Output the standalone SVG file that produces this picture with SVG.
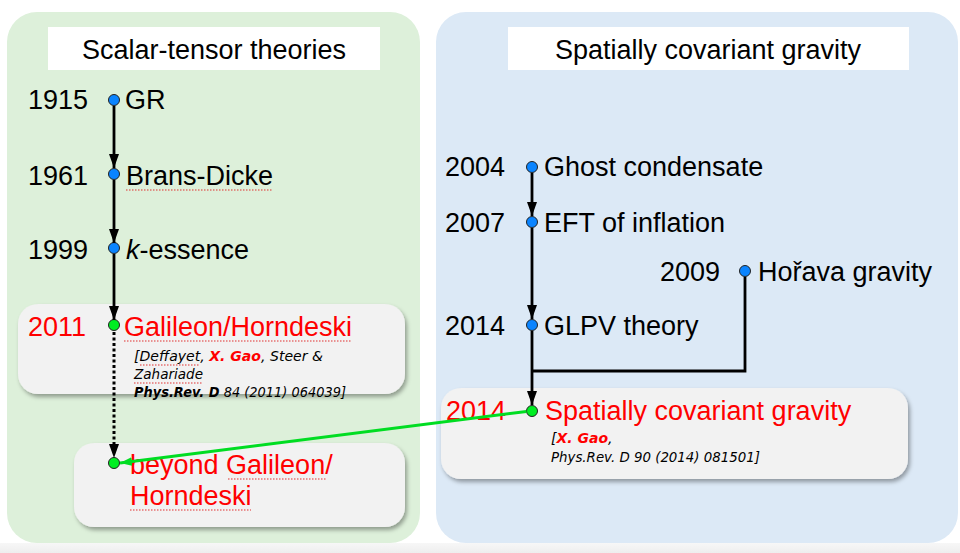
<svg xmlns="http://www.w3.org/2000/svg" width="960" height="553" viewBox="0 0 960 553">
<defs>
<style>
.t{font-family:"Liberation Sans",Arial,sans-serif;font-size:27px;fill:#000}
.red{fill:#ff0000}
.ref{font-family:"DejaVu Sans","Noto Sans",sans-serif;font-size:14px;font-style:italic;fill:#000}
.b{font-weight:bold}
.dot{fill:#0a84ff;stroke:#222;stroke-width:1}
.gdot{fill:#00ee22;stroke:#222;stroke-width:1}
.ln{stroke:#000;stroke-width:2.8;fill:none}
.box{fill:#f2f2f2;filter:url(#sh)}
.sp{stroke:#e03030;stroke-width:1.2;stroke-dasharray:1.5 1.5;fill:none}
</style>
<filter id="sh" x="-10%" y="-10%" width="130%" height="140%">
<feDropShadow dx="2" dy="3" stdDeviation="2.2" flood-color="#000" flood-opacity="0.35"/>
</filter>
<marker id="ah" viewBox="0 0 14 10" refX="14" refY="5" markerWidth="14" markerHeight="10" markerUnits="userSpaceOnUse" orient="auto">
<path d="M0,0 L14,5 L0,10 Z" fill="#000"/>
</marker>
<marker id="ahg" viewBox="0 0 14 10" refX="14" refY="5" markerWidth="12" markerHeight="10" markerUnits="userSpaceOnUse" orient="auto">
<path d="M0,0 L14,5 L0,10 Z" fill="#00dd22"/>
</marker>
<linearGradient id="bot" x1="0" y1="0" x2="0" y2="1">
<stop offset="0" stop-color="#f7f7f7"/>
<stop offset="1" stop-color="#eeeeee"/>
</linearGradient>
</defs>
<rect x="0" y="0" width="960" height="553" fill="#ffffff"/>
<rect x="0" y="543" width="960" height="10" fill="url(#bot)"/>

<g id="panel-left">
<rect x="7" y="12" width="413" height="531" rx="30" fill="#ddf0da"/>
<rect x="48" y="27" width="332" height="43" fill="#fff"/>
<text class="t" x="214" y="59" text-anchor="middle">Scalar-tensor theories</text>
</g>
<g id="panel-right">
<rect x="436" y="12" width="522" height="531" rx="30" fill="#dce9f6"/>
<rect x="508" y="27" width="401" height="43" fill="#fff"/>
<text class="t" x="708" y="59" text-anchor="middle">Spatially covariant gravity</text>
</g>

<g id="box-galileon-bg"><rect class="box" x="18" y="304" width="387" height="90" rx="20"/></g>
<g id="box-beyond-bg"><rect class="box" x="74" y="443" width="331" height="84" rx="20"/></g>
<g id="box-scg-bg"><rect class="box" x="441" y="388" width="467" height="91" rx="20"/></g>

<g id="node-gr">
<text class="t" x="28" y="109">1915</text>
<circle class="dot" cx="114" cy="100" r="5.5"/>
<text class="t" x="125" y="109">GR</text>
</g>
<g id="node-brans-dicke">
<text class="t" x="28" y="185">1961</text>
<circle class="dot" cx="114" cy="174" r="5.5"/>
<text class="t" x="126" y="185">Brans-Dicke</text>
<path class="sp" d="M126,190 H272"/>
</g>
<g id="node-k-essence">
<text class="t" x="28" y="259">1999</text>
<circle class="dot" cx="114" cy="248" r="5.5"/>
<text class="t" x="126" y="259"><tspan font-style="italic">k</tspan>-essence</text>
</g>
<g id="node-galileon">
<text class="t red" x="28" y="336">2011</text>
<circle class="gdot" cx="114" cy="325" r="5.5"/>
<text class="t red" x="124" y="336">Galileon/Horndeski</text>
<path class="sp" d="M124,341 H352"/>
<text class="ref" x="134" y="361" textLength="189" lengthAdjust="spacingAndGlyphs">[<tspan>Deffayet</tspan>, <tspan class="b" fill="#ff0000">X. Gao</tspan>, Steer &amp;</text>
<path class="sp" d="M140,365 H200"/>
<text class="ref" x="134" y="379" textLength="69" lengthAdjust="spacingAndGlyphs">Zahariade</text>
<path class="sp" d="M134,383 H203"/>
<text class="ref" x="134" y="397" textLength="212" lengthAdjust="spacingAndGlyphs"><tspan class="b">Phys.Rev. D</tspan> 84 (2011) 064039]</text>
</g>
<g id="node-beyond">
<circle class="gdot" cx="114" cy="463" r="5.5"/>
<text class="t red" x="130" y="474">beyond Galileon/</text>
<path class="sp" d="M228,479 H326"/>
<text class="t red" x="130" y="505">Horndeski</text>
<path class="sp" d="M130,510 H251"/>
</g>

<g id="node-ghost">
<text class="t" x="445" y="176">2004</text>
<circle class="dot" cx="532" cy="167" r="5.5"/>
<text class="t" x="544" y="176">Ghost condensate</text>
</g>
<g id="node-eft">
<text class="t" x="445" y="232">2007</text>
<circle class="dot" cx="532" cy="222" r="5.5"/>
<text class="t" x="544" y="232">EFT of inflation</text>
</g>
<g id="node-horava">
<text class="t" x="660" y="281">2009</text>
<circle class="dot" cx="745" cy="271" r="5.5"/>
<text class="t" x="758" y="281">Hořava gravity</text>
</g>
<g id="node-glpv">
<text class="t" x="445" y="335">2014</text>
<circle class="dot" cx="532" cy="325" r="5.5"/>
<text class="t" x="544" y="335">GLPV theory</text>
</g>
<g id="node-scg">
<text class="t red" x="446" y="420">2014</text>
<circle class="gdot" cx="532" cy="411" r="5.5"/>
<text class="t red" x="545" y="420">Spatially covariant gravity</text>
<text class="ref" x="551" y="443">[<tspan class="b" fill="#ff0000">X. Gao</tspan>,</text>
<text class="ref" x="551" y="462" textLength="209" lengthAdjust="spacingAndGlyphs">Phys.Rev. D 90 (2014) 081501]</text>
</g>

<g id="connectors">
<line class="ln" x1="114" y1="106" x2="114" y2="168" marker-end="url(#ah)"/>
<line class="ln" x1="114" y1="180" x2="114" y2="243" marker-end="url(#ah)"/>
<line class="ln" x1="114" y1="254" x2="114" y2="320" marker-end="url(#ah)"/>
<line x1="114" y1="332" x2="114" y2="446" stroke="#000" stroke-width="3" stroke-dasharray="3 2.5"/>
<path d="M109,444 L119,444 L114,458 Z" fill="#000"/>
<line class="ln" x1="532" y1="173" x2="532" y2="216" marker-end="url(#ah)"/>
<line class="ln" x1="532" y1="228" x2="532" y2="319" marker-end="url(#ah)"/>
<line class="ln" x1="532" y1="331" x2="532" y2="405" marker-end="url(#ah)"/>
<polyline class="ln" points="745,277 745,371 532,371"/>
<line x1="526.5" y1="411.5" x2="120" y2="463" stroke="#00dd22" stroke-width="3" marker-end="url(#ahg)"/>
</g>
</svg>
